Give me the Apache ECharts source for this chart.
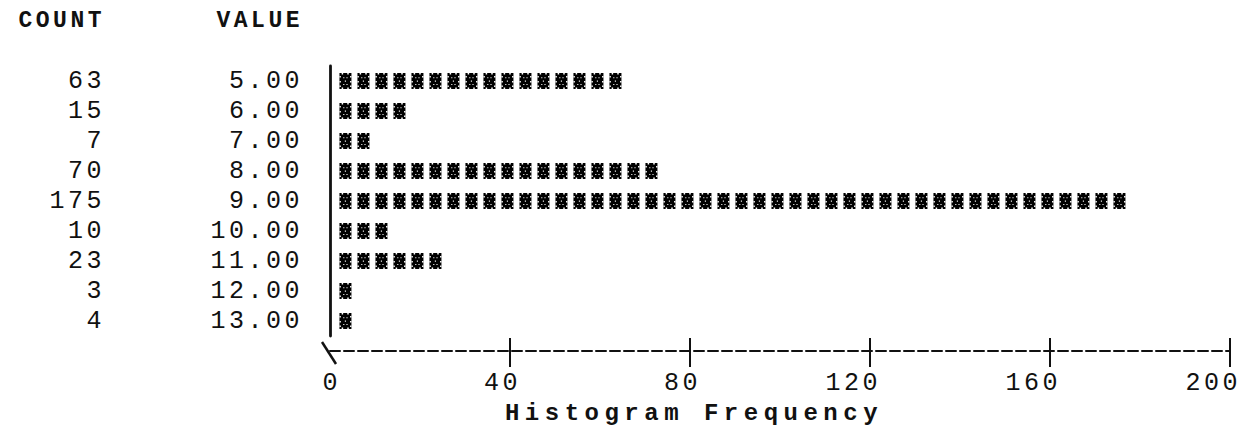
<!DOCTYPE html>
<html>
<head>
<meta charset="utf-8">
<title>Histogram Frequency</title>
<script src="https://cdn.jsdelivr.net/npm/echarts@6/dist/echarts.min.js"></script>
<style>
  html, body { margin: 0; padding: 0; background: #ffffff; }
  #main { width: 1244px; height: 425px; }
  /* wide typewriter-style spacing for every label */
  #main svg text { letter-spacing: 3.5px; }
</style>
</head>
<body>
<div id="main"></div>
<script>
// Frequency table: one row per value, COUNT = number of cases
const valueLabels = ['5.00', '6.00', '7.00', '8.00', '9.00', '10.00', '11.00', '12.00', '13.00'];
const counts = [63, 15, 7, 70, 175, 10, 23, 3, 4];
// each printed symbol stands for this many cases
const casesPerSymbol = 4;
// frequency axis ticks
const freqTicks = [0, 40, 80, 120, 160, 200];
const freqTickMarks = [40, 80, 120, 160, 200];

const FONT = '"Liberation Mono", "DejaVu Sans Mono", monospace';
const INK = '#111111';
const AXIS_TITLE = 'Histogram Frequency';

// plot layout
const gridLeft = 330, gridRight = 11, gridTop = 66, rowHeight = 30;
const gridHeight = rowHeight * valueLabels.length;
const axisOffset = 15;

const chart = echarts.init(document.getElementById('main'), null, { renderer: 'svg' });

// one printed symbol: a dark block with a light speckle lattice and notched edges
function symbolGlyph(x0, yc) {
  const w = 12, h = 16, y0 = yc - h / 2;
  const kids = [{
    type: 'rect', shape: { x: x0, y: y0, width: w, height: h },
    style: { fill: '#000000' }
  }];
  const hole = (x, y, s) => kids.push({
    type: 'rect', shape: { x: x0 + x, y: y0 + y, width: s, height: s },
    style: { fill: '#ffffff' }
  });
  [2.2, 7.8].forEach(x => { hole(x, 0, 1.5); hole(x, h - 1.5, 1.5); });
  [3, 8, 12.5].forEach(y => { hole(0, y, 1.4); hole(w - 1.4, y, 1.4); });
  [[3.8, 4.2], [7, 4.2], [5.4, 7.6], [3.8, 11], [7, 11]]
    .forEach(p => hole(p[0], p[1], 1.1));
  return kids;
}

const option = {
  backgroundColor: '#ffffff',
  animation: false,
  grid: { left: gridLeft, right: gridRight, top: gridTop, height: gridHeight },
  xAxis: [{
    type: 'value', min: 0, max: 200, interval: 40, position: 'bottom', offset: axisOffset,
    axisLine: { show: true, lineStyle: { color: INK, width: 2, type: [10, 4] } },
    axisTick: { show: true, inside: false, length: 16, customValues: freqTickMarks,
      lineStyle: { color: INK, width: 2 } },
    axisLabel: { show: true, customValues: freqTicks, margin: 20, align: 'right',
      padding: [0, -11, 0, 0], color: INK, fontFamily: FONT, fontSize: 25 },
    splitLine: { show: false }
  }, {
    type: 'value', min: 0, max: 200, interval: 40, position: 'bottom', offset: axisOffset,
    axisLine: { show: false },
    axisTick: { show: true, inside: true, length: 13, customValues: freqTickMarks,
      lineStyle: { color: INK, width: 2 } },
    axisLabel: { show: false },
    splitLine: { show: false }
  }],
  yAxis: [{
    type: 'category', inverse: true, data: valueLabels, position: 'left',
    axisLine: { show: true, lineStyle: { color: INK, width: 2.8 } },
    axisTick: { show: false },
    axisLabel: { interval: 0, margin: 27, color: INK, fontFamily: FONT, fontSize: 25 },
    splitLine: { show: false }
  }, {
    type: 'category', inverse: true, data: counts.map(String), position: 'left', offset: 200,
    axisLine: { show: false },
    axisTick: { show: false },
    axisLabel: { interval: 0, margin: 25, color: INK, fontFamily: FONT, fontSize: 25 },
    splitLine: { show: false }
  }],
  series: [{
    type: 'custom',
    xAxisIndex: 0, yAxisIndex: 0,
    silent: true,
    data: counts.map((c, i) => [c, i]),
    renderItem: function (params, api) {
      const count = api.value(0);
      const row = api.value(1);
      const n = Math.ceil(count / casesPerSymbol);
      const children = [];
      for (let k = 0; k < n; k++) {
        const p = api.coord([casesPerSymbol * k + 2.1, row]);
        symbolGlyph(p[0], p[1]).forEach(c => children.push(c));
      }
      return { type: 'group', children: children };
    }
  }]
};
chart.setOption(option);

// column headings, axis title and the origin stroke
const originX = chart.convertToPixel({ xAxisIndex: 0 }, 0);
const baseY = gridTop + gridHeight + axisOffset;
chart.setOption({
  graphic: [
    { type: 'text', x: 105, y: 21, silent: true,
      style: { text: 'COUNT', fill: INK, font: 'bold 23px ' + FONT, textAlign: 'right', textVerticalAlign: 'middle' } },
    { type: 'text', x: 303, y: 21, silent: true,
      style: { text: 'VALUE', fill: INK, font: 'bold 23px ' + FONT, textAlign: 'right', textVerticalAlign: 'middle' } },
    { type: 'text', x: 694, y: 413, silent: true,
      style: { text: AXIS_TITLE, fill: INK, font: 'bold 24px ' + FONT, textAlign: 'center', textVerticalAlign: 'middle' } },
    { type: 'line', silent: true,
      shape: { x1: originX - 8, y1: baseY - 9, x2: originX + 6, y2: baseY + 13 },
      style: { stroke: INK, lineWidth: 2.5 } }
  ]
});

// the axis title is spread a little wider than the other labels
document.querySelectorAll('#main svg text').forEach(t => {
  if (t.textContent === AXIS_TITLE) t.style.letterSpacing = '5.5px';
});
</script>
</body>
</html>
